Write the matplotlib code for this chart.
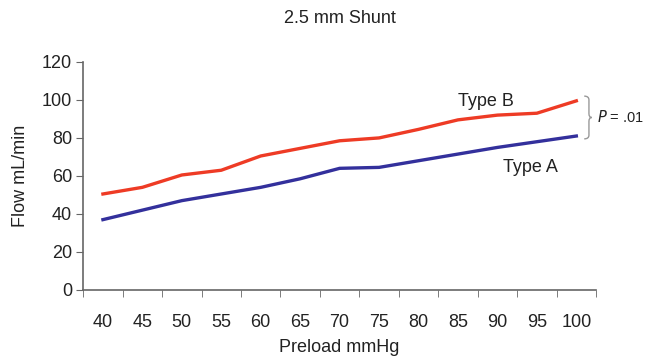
import matplotlib
matplotlib.use('Agg')
import matplotlib.pyplot as plt
from matplotlib.path import Path
from matplotlib.patches import PathPatch

preload = ['40', '45', '50', '55', '60', '65', '70', '75', '80', '85', '90', '95', '100']
flow_a = [37, 42, 47, 50.5, 54, 58.5, 64, 64.5, 68, 71.5, 75, 78, 81]
flow_b = [50.5, 54, 60.5, 63, 70.5, 74.5, 78.5, 80, 84.5, 89.5, 92, 93, 99.5]
y_ticks = [0, 20, 40, 60, 80, 100, 120]

RED = '#ee3b25'
BLUE = '#33309c'
AXIS = '#666666'
TXT = '#222222'
FS = 13

plt.rcParams['font.family'] = ['Liberation Sans', 'DejaVu Sans']

fig = plt.figure(figsize=(6.5, 3.62), dpi=100)
ax = fig.add_axes([0.128, 0.199, 0.789, 0.630])

x = list(range(len(preload)))
ax.plot(x, flow_b, color=RED, linewidth=2.4, solid_joinstyle='round')
ax.plot(x, flow_a, color=BLUE, linewidth=2.4, solid_joinstyle='round')

ax.set_xlim(-0.5, len(preload) - 0.5)
ax.set_ylim(0, 120)
ax.set_yticks(y_ticks)
ax.set_xticks(x)
ax.set_xticklabels(preload)
ax.set_xticks([i - 0.5 for i in range(len(preload) + 1)], minor=True)
ax.tick_params(axis='x', which='major', length=0, pad=17, labelsize=FS, colors=TXT)
ax.tick_params(axis='x', which='minor', length=5, color=AXIS, direction='out')
ax.tick_params(axis='y', length=5, color=AXIS, labelsize=FS, labelcolor=TXT, pad=3)

for s in ['top', 'right']:
    ax.spines[s].set_visible(False)
for s in ['left', 'bottom']:
    ax.spines[s].set_color(AXIS)
    ax.spines[s].set_linewidth(1.2)

ax.set_xlabel('Preload mmHg', fontsize=FS, color=TXT, labelpad=6)
ax.set_ylabel('Flow mL/min', fontsize=FS, color=TXT, labelpad=9)
ax.set_title('2.5 mm Shunt', fontsize=FS, color=TXT, pad=28)

ax.text(9.0, 97.0, 'Type B', fontsize=FS, color=TXT)
ax.text(10.15, 62.0, 'Type A', fontsize=FS, color=TXT)

# curly brace between the two series end points
x0, w = 12.2, 0.12
y0, y1 = flow_a[-1] - 1.5, flow_b[-1] + 2.5
ym = (y0 + y1) / 2
verts = [(x0, y1), (x0 + w, y1), (x0 + w, y1 - 2), (x0 + w, ym + 2),
         (x0 + w, ym + 2), (x0 + w, ym), (x0 + 1.6 * w, ym),
         (x0 + w, ym), (x0 + w, ym - 2), (x0 + w, ym - 2),
         (x0 + w, y0 + 2), (x0 + w, y0), (x0, y0)]
codes = [Path.MOVETO, Path.CURVE3, Path.CURVE3, Path.LINETO,
         Path.LINETO, Path.CURVE3, Path.CURVE3,
         Path.CURVE3, Path.CURVE3, Path.LINETO,
         Path.LINETO, Path.CURVE3, Path.CURVE3]
ax.add_patch(PathPatch(Path(verts, codes), fill=False, edgecolor='#999999',
                       linewidth=1.0, clip_on=False))
ax.text(x0 + 2.6 * w, ym, '$P$ = .01', fontsize=10.5, color=TXT,
        va='center', ha='left', clip_on=False)

plt.savefig('out.png', dpi=100)
plt.close()
